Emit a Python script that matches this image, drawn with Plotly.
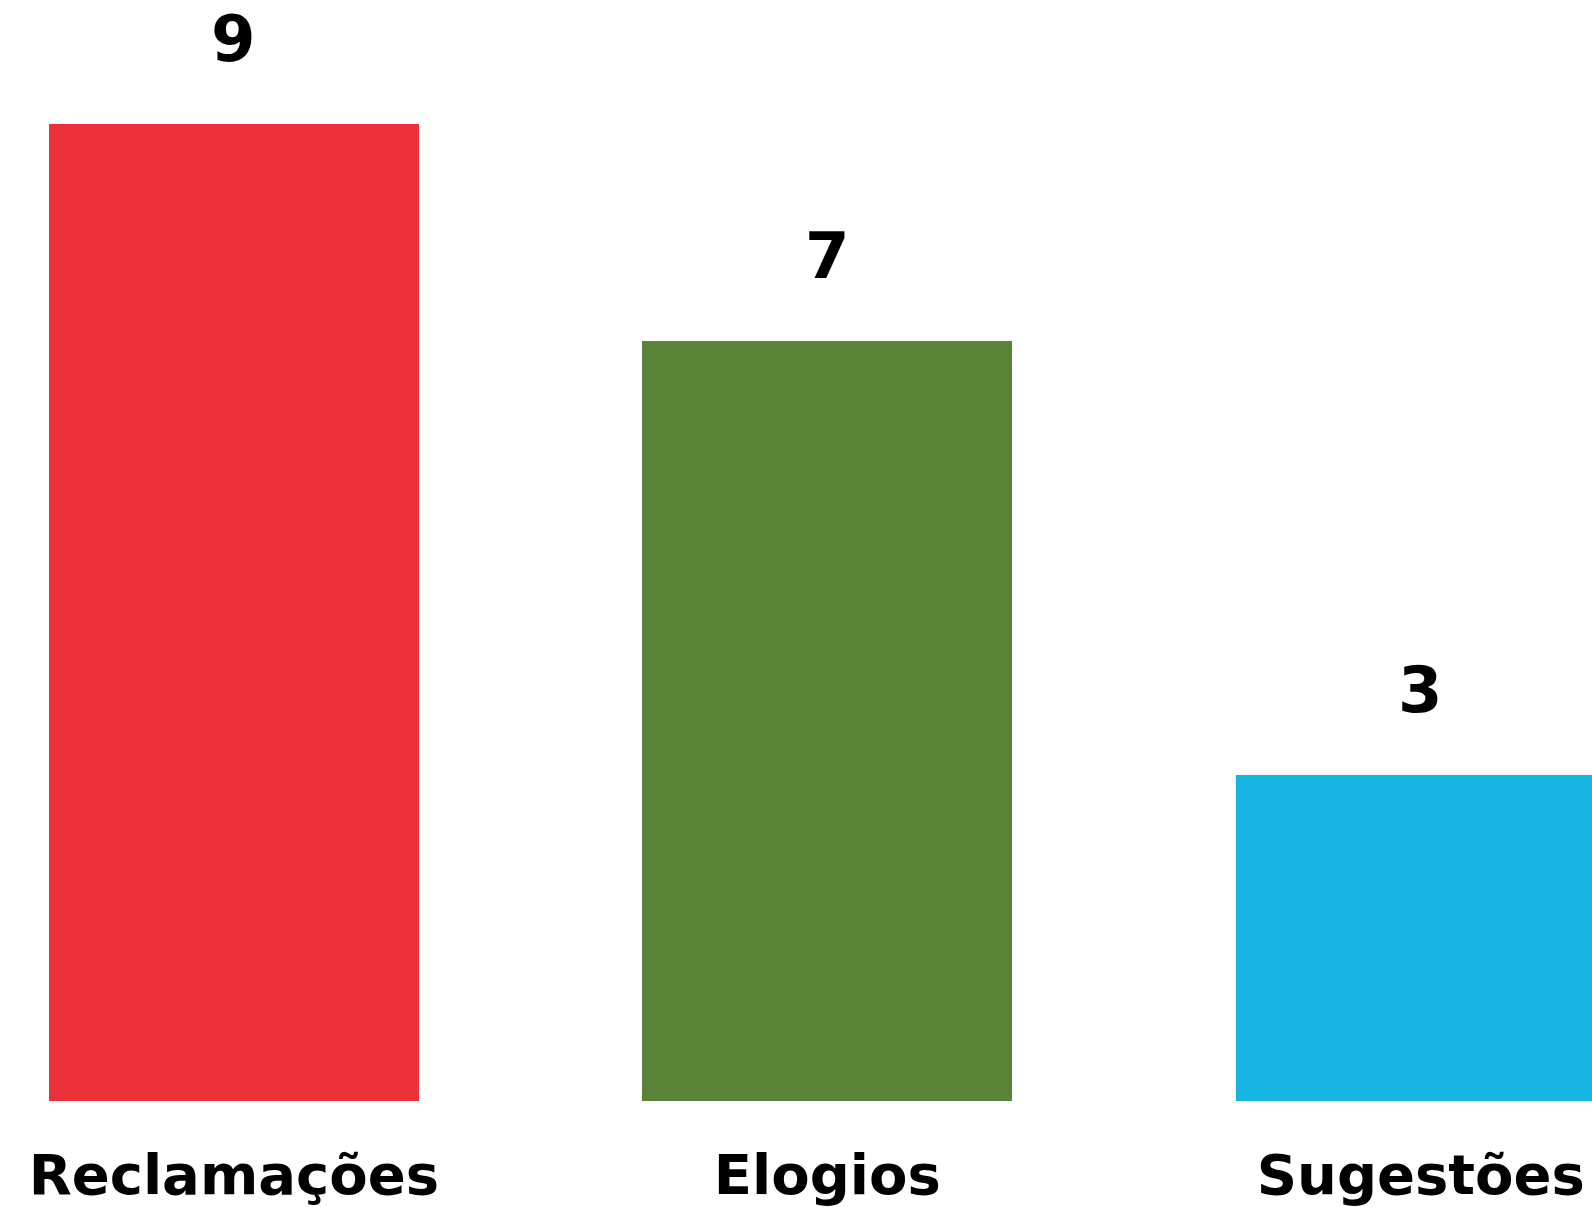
import plotly.graph_objects as go

categories = ["Reclamações", "Elogios", "Sugestões"]
values = [9, 7, 3]
colors = ["#EC3238", "#598437", "#17B6E2"]

FONT = "DejaVu Sans"

fig = go.Figure()
fig.add_trace(go.Bar(
    x=categories, y=values,
    marker=dict(color=colors, line=dict(width=0)),
    width=0.6234,
    hoverinfo="skip",
))

for c, v in zip(categories, values):
    fig.add_annotation(
        x=c, y=v, text=f"<b>{v}</b>", showarrow=False,
        yanchor="bottom", yshift=46,
        font=dict(family=FONT, size=64, color="#000000"),
    )

fig.update_layout(
    width=1592, height=1207,
    margin=dict(l=0, r=0, t=0, b=106, autoexpand=False),
    paper_bgcolor="white", plot_bgcolor="white",
    showlegend=False,
    bargap=0,
    xaxis=dict(
        range=[-0.3940, 2.2885],
        automargin=False,
        showgrid=False, zeroline=False, showline=False,
        ticks="", tickfont=dict(family=FONT, size=56, color="#000000"),
        tickvals=categories,
        ticktext=[f"<b>{c}</b>" for c in categories],
        ticklabelstandoff=36,
    ),
    yaxis=dict(
        range=[0, 10.147], visible=False, automargin=False,
        showgrid=False, zeroline=False,
    ),
)

fig.write_html(
    "out.html",
    config={"displayModeBar": False, "staticPlot": True},
    post_script="document.body.style.margin='0';document.body.style.overflow='hidden';",
)
